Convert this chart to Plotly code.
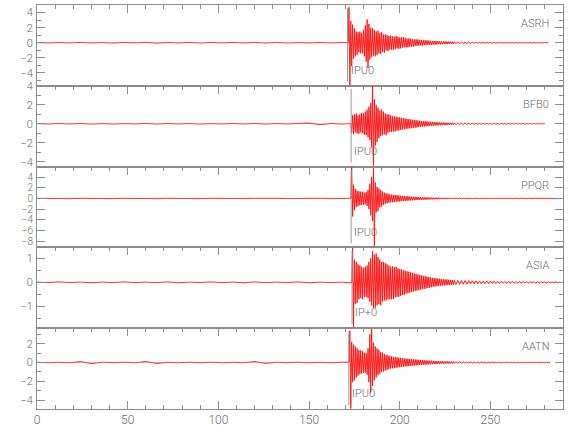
import plotly.graph_objects as go
from plotly.subplots import make_subplots

# ---------------- data ----------------
stations = ["ASRH", "BFB0", "PPQR", "ASIA", "AATN"]
phases = ["IPU0", "IPU0", "IPU0", "IP+0", "IPU0"]
pick_times = [171.2, 173.2, 173.2, 173.7, 171.9]
end_times = [282.0, 280.0, 289.0, 289.0, 283.0]
y_ranges = [[-5.7, 5.0], [-4.5, 4.0], [-9.2, 6.0], [-1.9, 1.45], [-4.95, 3.65]]
y_major = [[-4, -2, 0, 2, 4], [-4, -2, 0, 2, 4], [-8, -6, -4, -2, 0, 2, 4],
           [-1, 0, 1], [-4, -2, 0, 2]]
y_minor = [[-5, -3, -1, 1, 3], [-3, -1, 1, 3], [],
           [-1.5, -0.5, 0.5], [-3, -1, 1, 3]]
x_major = [0, 50, 100, 150, 200, 250]
x_minor = [10, 20, 30, 40, 60, 70, 80, 90, 110, 120, 130, 140, 160, 170, 180,
           190, 210, 220, 230, 240, 260, 270, 280]

# sample times (s): quiet part (every 6 s), event window (every 0.5 s), coda (every 1 s)
t_pre = list(range(0, 169, 6))                                  # 29 samples
t_event = [170 + 0.5 * i for i in range(121)] + list(range(231, 289))  # 121 + 58

pre_ASRH = [0.02, -0.03, 0.03, -0.02, 0.04, -0.03, 0.02, -0.04, 0.03, -0.02,
            0.06, -0.05, 0.03, -0.03, 0.05, -0.04, 0.03, -0.02, 0.04, -0.03,
            0.05, -0.04, 0.03, -0.03, 0.02, -0.03, 0.03, -0.02, 0.03]
ev_ASRH = ([0.02, -0.03, 0.02, -0.1, 4.7, -5.6, 2.9, -3.1, 2.4, -2.1, 1.9, -1.8,
            1.5, -1.6, 1.4, -1.3, 1.5, -1.4, 1.3, -1.4,
            1.7, -1.8, 2.3, -2.5, 3.1, -3.3, 2.5, -2.2,
            2.0, -1.9, 1.9, -1.7, 1.7, -1.8, 1.5, -1.6,
            1.6, -1.4, 1.3, -1.5, 1.4, -1.2, 1.1, -1.3,
            1.1, -1.0, 1.0, -1.1, 0.9, -0.9, 0.95]
           + [-0.9, 0.85, -0.95, 0.8, -0.85, 0.9, -0.75, 0.8, -0.8, 0.7,
              -0.75, 0.7, -0.65, 0.72, -0.6, 0.65, -0.62, 0.55, -0.6, 0.58,
              -0.52, 0.55, -0.5, 0.48, -0.52, 0.45, -0.42, 0.46, -0.4, 0.42,
              -0.38, 0.4, -0.36, 0.35, -0.38, 0.33, -0.32, 0.34, -0.3, 0.3,
              -0.28, 0.3, -0.27, 0.26, -0.28, 0.24, -0.25, 0.23, -0.24, 0.22,
              -0.21, 0.22, -0.2, 0.19, -0.21, 0.18, -0.19, 0.17, -0.18, 0.17,
              -0.16, 0.17, -0.15, 0.16, -0.15, 0.14, -0.15, 0.13, -0.14, 0.13]
           + [-0.13, 0.12, -0.12, 0.11, -0.11, 0.1, -0.1, 0.1, -0.09, 0.09,
              -0.09, 0.08, -0.08, 0.08, -0.07, 0.07, -0.07, 0.07, -0.06, 0.06,
              -0.06, 0.06, -0.06, 0.05, -0.05, 0.05, -0.05, 0.05, -0.05, 0.04,
              -0.04, 0.04, -0.04, 0.04, -0.04, 0.04, -0.04, 0.035, -0.035, 0.035,
              -0.035, 0.035, -0.03, 0.03, -0.03, 0.03, -0.03, 0.03, -0.03, 0.03,
              -0.03, 0.03, -0.025, 0.025, -0.025, 0.025, -0.025, 0.025])

pre_BFB0 = [0.02, -0.02, 0.03, -0.02, 0.03, -0.03, 0.02, -0.03, 0.02, -0.02,
            0.04, -0.03, 0.03, -0.02, 0.03, -0.03, 0.02, -0.02, 0.03, -0.02,
            0.04, -0.03, 0.03, -0.02, 0.04, 0.08, -0.09, 0.04, -0.03]
ev_BFB0 = ([0.02, -0.02, 0.03, -0.02, 0.02, -0.03, 0.05, -0.95,
            0.9, -1.1, 1.0, -0.9, 1.1, -1.0, 0.9, -1.05,
            1.0, -0.9, 1.15, -1.0, 1.1, -1.15, 1.3, -1.2,
            1.5, -1.4, 1.8, -1.7, 2.2, -2.5, 3.95, -4.4,
            2.6, -2.3, 2.0, -1.9, 1.7, -1.5, 1.4, -1.3,
            1.5, -1.2, 1.3, -1.1, 1.1, -1.2, 1.0, -0.95,
            1.0, -0.85, 0.9]
           + [-0.85, 0.8, -0.82, 0.78, -0.8, 0.75, -0.72, 0.7, -0.7, 0.68,
              -0.65, 0.62, -0.6, 0.6, -0.58, 0.55, -0.55, 0.52, -0.5, 0.5,
              -0.48, 0.45, -0.46, 0.42, -0.43, 0.4, -0.4, 0.38, -0.38, 0.35,
              -0.34, 0.33, -0.32, 0.3, -0.31, 0.28, -0.28, 0.27, -0.26, 0.25,
              -0.24, 0.23, -0.23, 0.22, -0.2, 0.21, -0.2, 0.19, -0.18, 0.18,
              -0.17, 0.17, -0.16, 0.15, -0.16, 0.14, -0.14, 0.14, -0.13, 0.13,
              -0.12, 0.12, -0.12, 0.11, -0.11, 0.11, -0.1, 0.1, -0.1, 0.1]
           + [-0.09, 0.09, -0.09, 0.08, -0.08, 0.08, -0.07, 0.07, -0.07, 0.07,
              -0.06, 0.06, -0.06, 0.06, -0.06, 0.05, -0.05, 0.05, -0.05, 0.05,
              -0.05, 0.04, -0.04, 0.04, -0.04, 0.04, -0.04, 0.04, -0.035, 0.035,
              -0.035, 0.035, -0.03, 0.03, -0.03, 0.03, -0.03, 0.03, -0.03, 0.03,
              -0.025, 0.025, -0.025, 0.025, -0.025, 0.025, -0.025, 0.025, -0.02, 0.02,
              -0.02, 0.02, -0.02, 0.02, -0.02, 0.02, -0.02, 0.02])

pre_PPQR = [0.03, -0.03, 0.02, -0.03, 0.03, -0.02, 0.03, -0.03, 0.02, -0.03,
            0.04, -0.03, 0.03, -0.03, 0.02, -0.03, 0.03, -0.02, 0.03, -0.03,
            0.03, -0.04, 0.03, -0.02, 0.03, -0.03, 0.04, -0.03, 0.02]
ev_PPQR = ([0.03, -0.03, 0.02, -0.03, 0.02, -0.02, 0.04, 5.9,
            -3.4, 2.6, -2.2, 1.8, -1.6, 1.5, -1.4, 1.35,
            -1.3, 1.3, -1.2, 1.25, -1.2, 1.1, -1.1, 1.2,
            -1.4, 1.6, -2.0, 2.8, -3.2, 4.0, -4.2, 5.7,
            -8.9, 3.0, -2.6, 2.2, -2.4, 1.9, -1.7, 1.6,
            -1.5, 1.3, -1.2, 1.1, -1.0, 1.0, -0.9, 0.9,
            -0.8, 0.8, -0.75]
           + [0.72, -0.7, 0.68, -0.66, 0.65, -0.6, 0.62, -0.58, 0.56, -0.55,
              0.52, -0.5, 0.5, -0.48, 0.46, -0.45, 0.44, -0.42, 0.4, -0.4,
              0.38, -0.36, 0.35, -0.34, 0.33, -0.32, 0.31, -0.3, 0.29, -0.28,
              0.27, -0.26, 0.25, -0.25, 0.24, -0.23, 0.22, -0.22, 0.21, -0.2,
              0.2, -0.19, 0.19, -0.18, 0.17, -0.17, 0.16, -0.16, 0.15, -0.15,
              0.15, -0.14, 0.14, -0.13, 0.13, -0.13, 0.12, -0.12, 0.12, -0.11,
              0.11, -0.11, 0.11, -0.1, 0.1, -0.1, 0.1, -0.09, 0.09, -0.09]
           + [0.09, -0.09, 0.08, -0.08, 0.08, -0.08, 0.07, -0.07, 0.07, -0.07,
              0.07, -0.06, 0.06, -0.06, 0.06, -0.06, 0.05, -0.05, 0.05, -0.05,
              0.05, -0.05, 0.05, -0.04, 0.04, -0.04, 0.04, -0.04, 0.04, -0.04,
              0.04, -0.04, 0.035, -0.035, 0.035, -0.035, 0.035, -0.03, 0.03, -0.03,
              0.03, -0.03, 0.03, -0.03, 0.03, -0.03, 0.03, -0.03, 0.025, -0.025,
              0.025, -0.025, 0.025, -0.025, 0.025, -0.025, 0.025, -0.025])

pre_ASIA = [0.01, -0.01, 0.02, -0.01, 0.01, -0.02, 0.01, -0.01, 0.02, -0.01,
            0.01, -0.01, 0.02, -0.02, 0.01, -0.01, 0.02, -0.01, 0.01, -0.02,
            0.02, -0.01, 0.01, -0.01, 0.02, -0.02, 0.01, -0.01, 0.01]
ev_ASIA = ([0.01, -0.01, 0.01, -0.01, 0.01, -0.01, 0.01, -0.02,
            1.42, -1.85, 0.95, -0.9, 0.85, -0.85, 0.75, -0.7,
            0.7, -0.65, 0.65, -0.7, 0.6, -0.6, 0.65, -0.6,
            0.7, -0.65, 0.85, -0.8, 1.0, -0.95, 1.3, -1.05,
            1.15, -1.05, 1.2, -0.95, 1.05, -0.9, 0.95, -0.95,
            0.85, -0.8, 0.85, -0.75, 0.8, -0.75, 0.75, -0.7,
            0.7, -0.7, 0.65]
           + [-0.7, 0.66, -0.68, 0.64, -0.62, 0.65, -0.6, 0.58, -0.6, 0.55,
              -0.56, 0.53, -0.52, 0.5, -0.52, 0.48, -0.47, 0.46, -0.45, 0.44,
              -0.43, 0.42, -0.4, 0.4, -0.38, 0.37, -0.36, 0.35, -0.34, 0.33,
              -0.32, 0.31, -0.3, 0.29, -0.28, 0.27, -0.27, 0.26, -0.25, 0.24,
              -0.23, 0.22, -0.22, 0.21, -0.2, 0.19, -0.19, 0.18, -0.17, 0.17,
              -0.16, 0.16, -0.15, 0.15, -0.14, 0.14, -0.13, 0.13, -0.13, 0.12,
              -0.12, 0.12, -0.11, 0.11, -0.11, 0.1, -0.1, 0.1, -0.1, 0.09]
           + [-0.09, 0.085, -0.085, 0.08, -0.08, 0.075, -0.075, 0.07, -0.07, 0.07,
              -0.065, 0.065, -0.06, 0.06, -0.06, 0.055, -0.055, 0.055, -0.05, 0.05,
              -0.05, 0.05, -0.045, 0.045, -0.045, 0.045, -0.04, 0.04, -0.04, 0.04,
              -0.04, 0.04, -0.035, 0.035, -0.035, 0.035, -0.035, 0.035, -0.03, 0.03,
              -0.03, 0.03, -0.03, 0.03, -0.03, 0.03, -0.03, 0.03, -0.025, 0.025,
              -0.025, 0.025, -0.025, 0.025, -0.025, 0.025, -0.025, 0.025])

pre_AATN = [0.03, -0.03, 0.02, -0.03, 0.1, -0.12, 0.03, -0.02, 0.03, -0.03,
            0.1, -0.1, 0.02, -0.03, 0.03, -0.02, 0.03, -0.03, 0.02, -0.03,
            0.1, -0.1, 0.03, -0.02, 0.03, -0.03, 0.02, -0.03, 0.03]
ev_AATN = ([0.03, -0.02, 0.03, -0.03, 0.05, 3.4, -4.9, 2.2,
            -2.1, 1.9, -1.9, 1.7, -1.6, 1.5, -1.4, 1.3,
            -1.25, 1.3, -1.15, 1.2, -1.1, 1.05, -1.1, 1.0,
            -1.3, 1.5, -2.1, 3.0, -3.2, 3.6, -2.5, 2.1,
            -1.9, 1.7, -1.6, 1.5, -1.35, 1.35, -1.2, 1.1,
            -1.0, 1.05, -0.95, 0.9, -0.85, 0.8, -0.8, 0.75,
            -0.7, 0.7, -0.65]
           + [0.65, -0.62, 0.6, -0.6, 0.57, -0.56, 0.55, -0.52, 0.52, -0.5,
              0.5, -0.47, 0.46, -0.45, 0.44, -0.43, 0.42, -0.41, 0.4, -0.39,
              0.38, -0.37, 0.36, -0.34, 0.34, -0.33, 0.32, -0.31, 0.3, -0.29,
              0.28, -0.27, 0.27, -0.26, 0.25, -0.24, 0.24, -0.23, 0.22, -0.22,
              0.21, -0.2, 0.2, -0.19, 0.19, -0.18, 0.17, -0.17, 0.16, -0.16,
              0.15, -0.15, 0.15, -0.14, 0.14, -0.13, 0.13, -0.13, 0.12, -0.12,
              0.12, -0.11, 0.11, -0.11, 0.1, -0.1, 0.1, -0.1, 0.1, -0.09]
           + [0.09, -0.09, 0.085, -0.085, 0.08, -0.08, 0.075, -0.075, 0.07, -0.07,
              0.065, -0.065, 0.06, -0.06, 0.06, -0.055, 0.055, -0.05, 0.05, -0.05,
              0.05, -0.045, 0.045, -0.045, 0.04, -0.04, 0.04, -0.04, 0.04, -0.035,
              0.035, -0.035, 0.035, -0.035, 0.03, -0.03, 0.03, -0.03, 0.03, -0.03,
              0.03, -0.03, 0.025, -0.025, 0.025, -0.025, 0.025, -0.025, 0.025, -0.025,
              0.025, -0.02, 0.02, -0.02, 0.02, -0.02, 0.02, -0.02])

values = {
    "ASRH": pre_ASRH + ev_ASRH,
    "BFB0": pre_BFB0 + ev_BFB0,
    "PPQR": pre_PPQR + ev_PPQR,
    "ASIA": pre_ASIA + ev_ASIA,
    "AATN": pre_AATN + ev_AATN,
}

# ---------------- figure ----------------
GRAY = "#8c8c8c"
TXT = "#6a6a6a"
FONT = "Roboto, Liberation Sans, sans-serif"

fig = make_subplots(rows=5, cols=1, shared_xaxes=True, vertical_spacing=0)
t_all = t_pre + t_event

for i, st in enumerate(stations):
    r = i + 1
    xs, ys = [], []
    for t, v in zip(t_all, values[st]):
        if t <= end_times[i]:
            xs.append(t)
            ys.append(v)
    fig.add_trace(go.Scatter(x=xs, y=ys, mode="lines",
                             line=dict(color="rgb(255,0,0)", width=0.8),
                             fill="tozeroy", fillcolor="rgba(255,0,0,0.55)",
                             hoverinfo="skip", showlegend=False), row=r, col=1)

    fs = 10 if r == 3 else 11
    fig.update_yaxes(range=y_ranges[i], tickmode="array", tickvals=y_major[i],
                     ticks="inside", ticklen=8, tickwidth=1, tickcolor=GRAY,
                     minor=dict(tickmode="array", tickvals=y_minor[i],
                                ticks="inside", ticklen=4, tickcolor=GRAY),
                     showline=True, linecolor=GRAY, linewidth=1, mirror="ticks",
                     showgrid=False, zeroline=False, automargin=False,
                     tickfont=dict(family=FONT, size=fs, color=TXT, weight=300),
                     ticklabelstandoff=1,
                     row=r, col=1)
    fig.update_xaxes(range=[0, 290], tickmode="array", tickvals=x_major,
                     ticks="inside", ticklen=8, tickwidth=1, tickcolor=GRAY,
                     minor=dict(tickmode="array", tickvals=x_minor,
                                ticks="inside", ticklen=4, tickcolor=GRAY),
                     showline=True, linecolor=GRAY, linewidth=1,
                     mirror=("ticks" if r == 5 else True),
                     side=("bottom" if r == 5 else "top"),
                     showticklabels=(r == 5), automargin=False,
                     showgrid=False, zeroline=False,
                     tickfont=dict(family=FONT, size=12, color=TXT, weight=300),
                     row=r, col=1)

    xa = "x" if r == 1 else f"x{r}"
    ya = "y" if r == 1 else f"y{r}"
    fig.add_shape(type="line", xref=xa, yref=f"{ya} domain",
                  x0=pick_times[i], x1=pick_times[i], y0=0.05, y1=0.96,
                  line=dict(color="#999999", width=1))
    fig.add_annotation(xref=xa, yref=f"{ya} domain", x=pick_times[i], y=0.19,
                       text=phases[i], showarrow=False, xanchor="left",
                       yanchor="middle", xshift=1,
                       font=dict(family=FONT, size=11, color=TXT, weight=300))
    fig.add_annotation(xref=f"{xa} domain", yref=f"{ya} domain", x=0.978,
                       y=0.77, text=st, showarrow=False, xanchor="right",
                       yanchor="middle",
                       font=dict(family=FONT, size=11, color=TXT, weight=300))

fig.update_layout(width=580, height=440,
                  margin=dict(l=37, r=17, t=5, b=31),
                  paper_bgcolor="white", plot_bgcolor="white",
                  showlegend=False, hovermode=False)

fig.write_html("out.html", config={"displayModeBar": False},
               post_script="document.body.style.margin='0px';")
